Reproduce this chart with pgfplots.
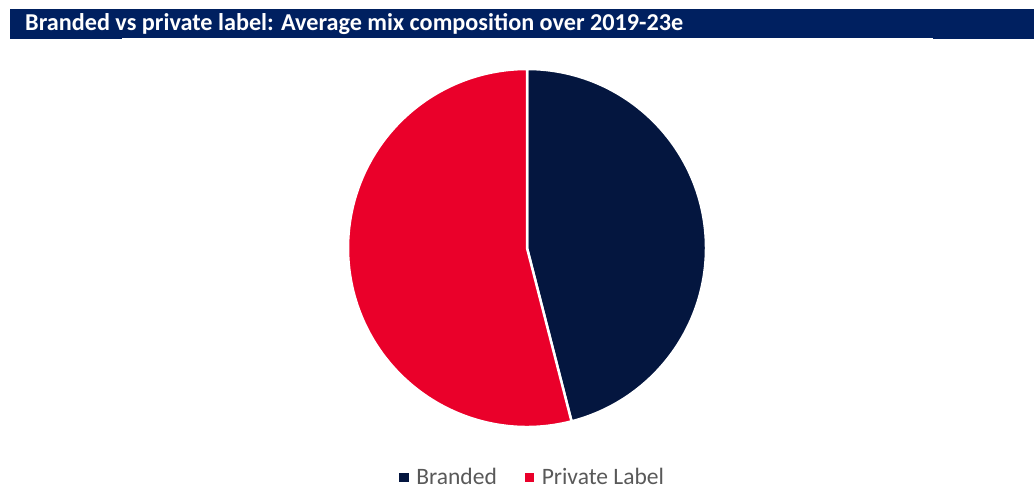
\documentclass[border=0pt]{standalone}
\usepackage{pgfplots}
\pgfplotsset{compat=1.18}
\usepackage{pgfplotstable}
\usepackage{fontspec}
\setmainfont{Carlito}
\definecolor{barblue}{HTML}{002060}
\definecolor{navy}{HTML}{04163F}
\definecolor{pred}{HTML}{EA002A}
\definecolor{lgray}{HTML}{595959}
\pgfplotstableread{
label value
Branded 46
Private 54
}\piedata
\begin{document}%
\begin{tikzpicture}[x=1bp,y=1bp]
\pgfplotstablegetelem{0}{value}\of\piedata \let\vA\pgfplotsretval
\pgfplotstablegetelem{1}{value}\of\piedata \let\vB\pgfplotsretval
\pgfmathsetmacro\angA{360*(\vA/(\vA+\vB))}
\pgfmathsetmacro\endA{90-\angA}
\pgfmathsetmacro\xB{cos(\endA)}
\pgfmathsetmacro\yB{sin(\endA)}
\useasboundingbox (0,0) rectangle (1034,486);
\fill[barblue] (10,447) rectangle (1034,477);
\fill[white] (122,447) rectangle (933,448.2);
\node[anchor=west, text=white, font=\bfseries\fontsize{24.3}{28}\selectfont, inner sep=0pt] at (25,462) {Branded vs private label: Average mix composition over 2019-23e};
\begin{axis}[hide axis, scale only axis, width=358bp, height=358bp,
  xmin=-1, xmax=1, ymin=-1, ymax=1, clip=false,
  at={(527bp,238bp)}, anchor=center,
  legend columns=2,
  legend style={at={(0.516,-0.140)}, anchor=center, draw=none, fill=none,
    inner sep=0pt, nodes={inner ysep=1pt},
    font=\fontsize{23.6}{25}\selectfont\color{lgray},
    /tikz/every even column/.append style={column sep=26bp}},
  legend cell align=left]
\addlegendimage{only marks, mark=square*, mark size=4.2bp, color=navy}
\addlegendentry{\hspace{6.5bp}Branded}
\addlegendimage{only marks, mark=square*, mark size=4.2bp, color=pred}
\addlegendentry{\hspace{6.5bp}Private Label}
\fill[navy, draw=white, line width=2.5bp, line join=round] (axis cs:0,0) -- (axis cs:0,1) arc[start angle=90, end angle=\endA, radius=179bp] -- cycle;
\fill[pred, draw=white, line width=2.5bp, line join=round] (axis cs:0,0) -- (axis cs:\xB,\yB) arc[start angle=\endA, end angle=-270, radius=179bp] -- cycle;
\end{axis}
\end{tikzpicture}%
\end{document}
